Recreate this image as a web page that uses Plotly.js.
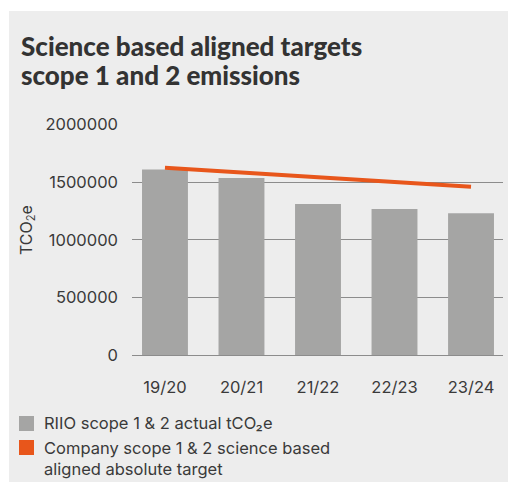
<!DOCTYPE html>
<html>
<head>
<meta charset="utf-8">
<script src="https://cdn.plot.ly/plotly-3.0.1.min.js"></script>
<style>
  html, body { margin: 0; padding: 0; background: #ffffff; width: 508px; height: 482px; overflow: hidden; }
  #chart { position: absolute; left: 9px; top: 11px; width: 499px; height: 471px; }
</style>
</head>
<body>
<div id="chart"></div>
<script>
const categories = ['19/20', '20/21', '21/22', '22/23', '23/24'];
const actualValues = [1610000, 1535000, 1310000, 1267000, 1229000];
const targetValues = [1625000, 1585000, 1545000, 1502000, 1460000];
const yTickVals = [0, 500000, 1000000, 1500000, 2000000];
const yTickText = ['0', '500000', '1000000', '1500000', '2000000'];
const titleLines = ['Science based aligned targets', 'scope 1 and 2 emissions'];
const yTitle = 'TCO<sub>2</sub>e';
const legendNames = ['RIIO scope 1 &amp; 2 actual tCO₂e', 'Company scope 1 &amp; 2 science based<br>aligned absolute target'];

const grey = '#a5a5a4';
const orange = '#e8561b';
const textCol = '#3a3a3a';

// plot area in page pixels: x 132..503, y 124..355 (div offset 9,11)
const PX0 = 132, PX1 = 503, PY0 = 124, PY1 = 355;
const px = x => (x - PX0) / (PX1 - PX0);
const py = y => (PY1 - y) / (PY1 - PY0);

const traces = [
  { type: 'bar', x: categories, y: actualValues, name: legendNames[0], marker: { color: grey }, showlegend: false },
  { type: 'scatter', mode: 'lines', x: categories, y: targetValues, name: legendNames[1], line: { color: orange, width: 4 }, showlegend: false }
];

const annotations = [
  { text: titleLines[0], xref: 'paper', yref: 'paper', x: px(19), y: py(46), xanchor: 'left', yanchor: 'middle', showarrow: false,
    font: { family: 'Lato, sans-serif', size: 26, color: '#333333', weight: 900 } },
  { text: titleLines[1], xref: 'paper', yref: 'paper', x: px(19), y: py(75), xanchor: 'left', yanchor: 'middle', showarrow: false,
    font: { family: 'Lato, sans-serif', size: 26, color: '#333333', weight: 900 } },
  { text: yTitle, xref: 'paper', yref: 'paper', x: px(27), y: py(230), xanchor: 'center', yanchor: 'middle', textangle: -90, showarrow: false,
    font: { family: 'Inter, sans-serif', size: 16, color: textCol } },
  { text: legendNames[0], xref: 'paper', yref: 'paper', x: px(42), y: py(423), xanchor: 'left', yanchor: 'middle', showarrow: false, align: 'left',
    font: { family: 'Inter, sans-serif', size: 16.5, color: textCol } },
  { text: legendNames[1], xref: 'paper', yref: 'paper', x: px(42), y: py(458), xanchor: 'left', yanchor: 'middle', showarrow: false, align: 'left',
    font: { family: 'Inter, sans-serif', size: 16.5, color: textCol } }
];

const shapes = [
  { type: 'rect', xref: 'paper', yref: 'paper', x0: px(19), x1: px(34), y0: py(416), y1: py(431), fillcolor: grey, line: { width: 0 } },
  { type: 'rect', xref: 'paper', yref: 'paper', x0: px(19), x1: px(34), y0: py(440), y1: py(455), fillcolor: orange, line: { width: 0 } }
];

const layout = {
  width: 499, height: 471,
  margin: { l: PX0 - 9, r: 508 - PX1, t: PY0 - 11, b: 482 - PY1, pad: 0 },
  paper_bgcolor: '#ededed',
  plot_bgcolor: 'rgba(0,0,0,0)',
  barmode: 'overlay',
  bargap: 0.4,
  font: { family: 'Inter, sans-serif', color: textCol, size: 16.5 },
  xaxis: {
    type: 'category',
    range: [-0.431, 4.418],
    showgrid: false, zeroline: false, showline: false,
    ticks: '', ticklabelstandoff: 20,
    tickfont: { family: 'Inter, sans-serif', size: 16.5, color: textCol }
  },
  yaxis: {
    range: [0, 2004000],
    tickvals: yTickVals, ticktext: yTickText,
    showgrid: true, gridcolor: '#8c8c8c', gridwidth: 1,
    zeroline: true, zerolinecolor: '#8c8c8c', zerolinewidth: 1,
    showline: false, ticks: '', ticklabelstandoff: 13,
    tickfont: { family: 'Inter, sans-serif', size: 16.5, color: textCol }
  },
  showlegend: false,
  annotations: annotations,
  shapes: shapes
};

Plotly.newPlot('chart', traces, layout, { displayModeBar: false, staticPlot: true });
</script>
</body>
</html>
